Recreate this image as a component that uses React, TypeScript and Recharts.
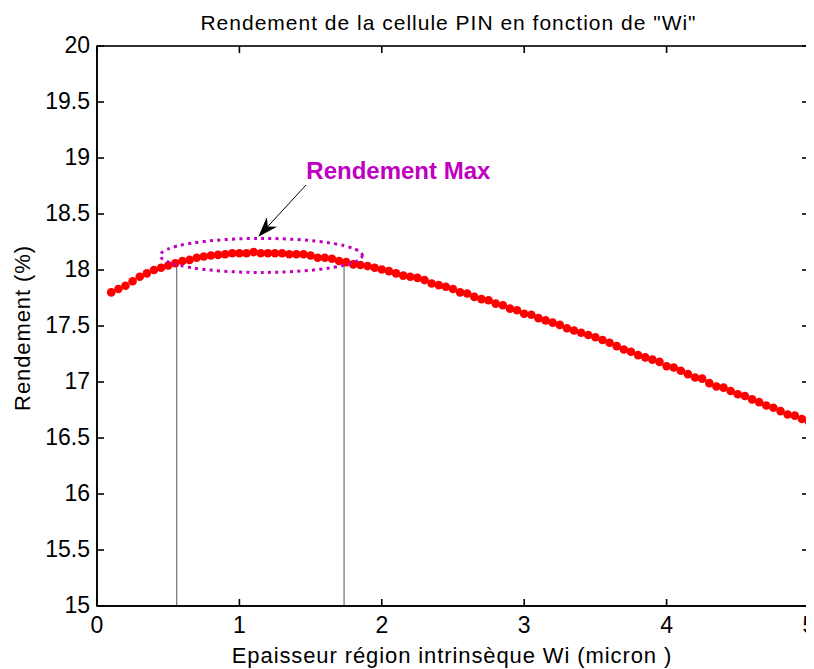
import React from 'react';
import * as Recharts from 'recharts';
import {
  ScatterChart,
  Scatter,
  XAxis,
  YAxis,
  ReferenceLine,
  ReferenceDot,
  Label,
} from 'recharts';

const W_VALUES = [
  0.1, 0.15, 0.2, 0.25, 0.3, 0.35, 0.4, 0.45, 0.5, 0.55,
  0.6, 0.65, 0.7, 0.75, 0.8, 0.85, 0.9, 0.95, 1.0, 1.05,
  1.1, 1.15, 1.2, 1.25, 1.3, 1.35, 1.4, 1.45, 1.5, 1.55,
  1.6, 1.65, 1.7, 1.75, 1.8, 1.85, 1.9, 1.95, 2.0, 2.05,
  2.1, 2.15, 2.2, 2.25, 2.3, 2.35, 2.4, 2.45, 2.5, 2.55,
  2.6, 2.65, 2.7, 2.75, 2.8, 2.85, 2.9, 2.95, 3.0, 3.05,
  3.1, 3.15, 3.2, 3.25, 3.3, 3.35, 3.4, 3.45, 3.5, 3.55,
  3.6, 3.65, 3.7, 3.75, 3.8, 3.85, 3.9, 3.95, 4.0, 4.05,
  4.1, 4.15, 4.2, 4.25, 4.3, 4.35, 4.4, 4.45, 4.5, 4.55,
  4.6, 4.65, 4.7, 4.75, 4.8, 4.85, 4.9, 4.95, 5.0,
];

const RENDEMENT = [
  17.8, 17.83, 17.86, 17.9, 17.94, 17.97, 18.0, 18.02, 18.04, 18.06,
  18.08, 18.09, 18.11, 18.12, 18.13, 18.135, 18.14, 18.15, 18.15, 18.15,
  18.16, 18.15, 18.15, 18.15, 18.15, 18.14, 18.14, 18.14, 18.13, 18.11,
  18.11, 18.1, 18.08, 18.07, 18.05, 18.045, 18.035, 18.02, 18.005, 17.99,
  17.97, 17.95, 17.94, 17.93, 17.91, 17.88, 17.865, 17.85, 17.83, 17.8,
  17.79, 17.76, 17.74, 17.73, 17.7, 17.685, 17.655, 17.64, 17.61, 17.6,
  17.57, 17.55, 17.53, 17.51, 17.48, 17.46, 17.44, 17.42, 17.4, 17.375,
  17.35, 17.32, 17.29, 17.27, 17.24, 17.22, 17.2, 17.18, 17.14, 17.13,
  17.1, 17.07, 17.04, 17.03, 16.99, 16.96, 16.95, 16.92, 16.89, 16.875,
  16.845, 16.82, 16.79, 16.77, 16.74, 16.71, 16.7, 16.67, 16.645,
];

const X_DOMAIN = [0, 5];
const Y_DOMAIN = [15, 20];
const X_TICKS = [0, 1, 2, 3, 4, 5];
const Y_TICKS = [15, 15.5, 16, 16.5, 17, 17.5, 18, 18.5, 19, 19.5, 20];

const TITLE = 'Rendement de la cellule PIN en fonction de "Wi"';
const X_LABEL = 'Epaisseur région intrinsèque Wi (micron )';
const Y_LABEL = 'Rendement (%)';
const ANNOTATION = 'Rendement Max';

const MARKER_LINE_X = [0.56, 1.735];
const MARKER_LINE_TOP = [18.055, 18.05];
const ELLIPSE_CENTER = { x: 1.154, y: 18.13 };
const ARROW_FROM = { x: 1.468, y: 18.759 };
const ARROW_TO = { x: 1.133, y: 18.297 };
const ANNOTATION_POS = { x: 1.47, y: 18.81 };

const data = W_VALUES.map((w, i) => ({ w, r: RENDEMENT[i] }));

const CHART_W = 806;
const CHART_H = 661;
const MARGIN = { top: 38, right: 5, bottom: 0, left: 0 };
const Y_AXIS_W = 89;
const X_AXIS_H = 63;

const FONT = '"Liberation Sans", Arial, Helvetica, sans-serif';
const MAGENTA = '#bf00bf';
const TICK_LEN = 7;
const AXIS_W = 1.6;

const usePlotAreaHook: any = (Recharts as any).usePlotArea || null;

const LeftTick = (p: any) => (
  <g>
    <line x1={p.x} y1={p.y} x2={p.x + TICK_LEN} y2={p.y} stroke="#000" strokeWidth={AXIS_W} />
    <text x={p.x - 7} y={p.y + 7} textAnchor="end" fontSize={23} fontFamily={FONT} fill="#000">
      {String(p.payload.value)}
    </text>
  </g>
);

const BottomTick = (p: any) => (
  <g>
    <line x1={p.x} y1={p.y} x2={p.x} y2={p.y - TICK_LEN} stroke="#000" strokeWidth={AXIS_W} />
    <text x={p.x} y={p.y + 27} textAnchor="middle" fontSize={23} fontFamily={FONT} fill="#000">
      {String(p.payload.value)}
    </text>
  </g>
);

const Dot = (p: any) => <circle cx={p.cx} cy={p.cy} r={4.3} fill="#ff0000" />;

const EllipseShape = (p: any) => (
  <ellipse
    cx={p.cx}
    cy={p.cy}
    rx={101}
    ry={17}
    fill="none"
    stroke={MAGENTA}
    strokeWidth={3}
    strokeDasharray="3 4.3"
  />
);

const ArrowShape = (p: any) => {
  const { x1, y1, x2, y2 } = p;
  const dx = x2 - x1;
  const dy = y2 - y1;
  const len = Math.sqrt(dx * dx + dy * dy) || 1;
  const ux = dx / len;
  const uy = dy / len;
  const nx = -uy;
  const ny = ux;
  const headLen = 20;
  const notch = 14;
  const half = 7;
  const bx = x2 - ux * headLen;
  const by = y2 - uy * headLen;
  const cx = x2 - ux * notch;
  const cy = y2 - uy * notch;
  const pts = [
    [x2, y2],
    [bx + nx * half, by + ny * half],
    [cx, cy],
    [bx - nx * half, by - ny * half],
  ]
    .map((q) => q.join(','))
    .join(' ');
  return (
    <g>
      <line x1={x1} y1={y1} x2={cx} y2={cy} stroke="#000" strokeWidth={1} />
      <polygon points={pts} fill="#000" />
    </g>
  );
};

const AnnotationText = (p: any) => (
  <text
    x={p.cx}
    y={p.cy}
    textAnchor="start"
    fontSize={24}
    fontWeight="bold"
    fontFamily={FONT}
    fill={MAGENTA}
  >
    {ANNOTATION}
  </text>
);

// Box frame with mirrored inward ticks on top and right (MATLAB style)
function FrameInner({ pa }: { pa: any }) {
  const x = pa.x;
  const y = pa.y;
  const w = pa.width;
  const h = pa.height;
  const sx = (v: number) => x + ((v - X_DOMAIN[0]) / (X_DOMAIN[1] - X_DOMAIN[0])) * w;
  const sy = (v: number) => y + h - ((v - Y_DOMAIN[0]) / (Y_DOMAIN[1] - Y_DOMAIN[0])) * h;
  return (
    <g className="matlab-frame">
      <rect x={x} y={y} width={w} height={h} fill="none" stroke="#000" strokeWidth={AXIS_W} />
      {X_TICKS.map((t) => (
        <line key={`tt-${t}`} x1={sx(t)} y1={y} x2={sx(t)} y2={y + TICK_LEN} stroke="#000" strokeWidth={AXIS_W} />
      ))}
      {Y_TICKS.map((t) => (
        <line key={`rt-${t}`} x1={x + w} y1={sy(t)} x2={x + w - TICK_LEN} y2={sy(t)} stroke="#000" strokeWidth={AXIS_W} />
      ))}
      <text
        x={x + w / 2 - 4.5}
        y={y - 16}
        textAnchor="middle"
        fontSize={21}
        letterSpacing={1}
        fontFamily={FONT}
        fill="#000"
      >
        {TITLE}
      </text>
    </g>
  );
}

function FrameHook() {
  const pa = usePlotAreaHook();
  if (!pa) return null;
  return <FrameInner pa={pa} />;
}

const STATIC_PA = {
  x: MARGIN.left + Y_AXIS_W,
  y: MARGIN.top,
  width: CHART_W - MARGIN.left - MARGIN.right - Y_AXIS_W,
  height: CHART_H - MARGIN.top - MARGIN.bottom - X_AXIS_H,
};

function Frame() {
  if (usePlotAreaHook) return <FrameHook />;
  return <FrameInner pa={STATIC_PA} />;
}

export default function App() {
  return (
    <ScatterChart
      width={CHART_W}
      height={CHART_H}
      margin={MARGIN}
      style={{ background: '#fff' }}
    >
      <XAxis
        xAxisId={0}
        type="number"
        dataKey="w"
        domain={X_DOMAIN}
        ticks={X_TICKS}
        interval={0}
        allowDataOverflow
        height={X_AXIS_H}
        tickSize={0}
        tickMargin={0}
        tickLine={false}
        axisLine={{ stroke: '#000', strokeWidth: AXIS_W }}
        tick={BottomTick}
      >
        <Label
          content={(lp: any) => {
            const vb = lp.viewBox || { x: 89, y: 598, width: 712, height: 63 };
            return (
              <text
                x={vb.x + vb.width / 2 - 1}
                y={vb.y + 57}
                textAnchor="middle"
                fontSize={22}
                letterSpacing={0.9}
                fontFamily={FONT}
                fill="#000"
              >
                {X_LABEL}
              </text>
            );
          }}
        />
      </XAxis>
      <YAxis
        yAxisId={0}
        type="number"
        dataKey="r"
        domain={Y_DOMAIN}
        ticks={Y_TICKS}
        interval={0}
        allowDataOverflow
        width={Y_AXIS_W}
        tickSize={0}
        tickMargin={0}
        tickLine={false}
        axisLine={{ stroke: '#000', strokeWidth: AXIS_W }}
        tick={LeftTick}
      >
        <Label
          content={(lp: any) => {
            const vb = lp.viewBox || { x: 0, y: 38, width: 89, height: 560 };
            const cx = vb.x + 22;
            const cy = vb.y + vb.height / 2 + 2;
            return (
              <text
                x={cx}
                y={cy}
                transform={`rotate(-90, ${cx}, ${cy})`}
                textAnchor="middle"
                fontSize={22}
                letterSpacing={0.9}
                fontFamily={FONT}
                fill="#000"
              >
                {Y_LABEL}
              </text>
            );
          }}
        />
      </YAxis>
      <Frame />
      {MARKER_LINE_X.map((x, i) => (
        <ReferenceLine
          key={`ml-${i}`}
          xAxisId={0}
          yAxisId={0}
          segment={[
            { x, y: 15 },
            { x, y: MARKER_LINE_TOP[i] },
          ]}
          stroke="#555"
          strokeWidth={1}
        />
      ))}
      <Scatter
        data={data}
        dataKey="r"
        xAxisId={0}
        yAxisId={0}
        fill="#ff0000"
        shape={Dot}
        isAnimationActive={false}
      />
      <ReferenceDot
        xAxisId={0}
        yAxisId={0}
        x={ELLIPSE_CENTER.x}
        y={ELLIPSE_CENTER.y}
        shape={EllipseShape}
      />
      <ReferenceLine
        xAxisId={0}
        yAxisId={0}
        segment={[ARROW_FROM, ARROW_TO]}
        shape={ArrowShape}
      />
      <ReferenceDot
        xAxisId={0}
        yAxisId={0}
        x={ANNOTATION_POS.x}
        y={ANNOTATION_POS.y}
        shape={AnnotationText}
      />
    </ScatterChart>
  );
}
